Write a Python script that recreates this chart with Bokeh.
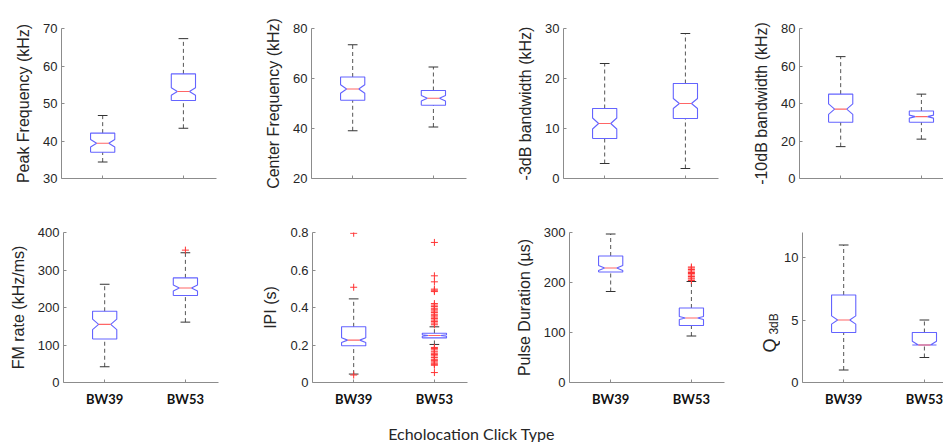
import numpy as np
from bokeh.plotting import figure
from bokeh.layouts import row, column
from bokeh.models import FixedTicker, Range1d
from bokeh.embed import file_html
from bokeh.resources import INLINE
from bokeh.core.properties import value

# ---------------- data ----------------
groups = ["BW39", "BW53"]
x_title = "Echolocation Click Type"

# stats per group: [lower whisker, q1, median, q3, upper whisker]
peak_stats = [[34.4, 37.0, 39.4, 42.1, 46.8], [43.4, 50.8, 53.2, 57.9, 67.3]]
peak_notch = [1.0, 1.0]
peak_out = [[], []]
peak_ticks = [30, 40, 50, 60, 70]
peak_labels = ["30", "40", "50", "60", "70"]

center_stats = [[39.1, 51.3, 55.8, 60.6, 73.5], [40.6, 49.3, 52.1, 55.2, 64.6]]
center_notch = [1.7, 1.1]
center_out = [[], []]
center_ticks = [20, 40, 60, 80]
center_labels = ["20", "40", "60", "80"]

bw3_stats = [[3, 8, 11, 14, 23], [2, 12, 15, 19, 29]]
bw3_notch = [1.1, 1.0]
bw3_out = [[], []]
bw3_ticks = [0, 10, 20, 30]
bw3_labels = ["0", "10", "20", "30"]

bw10_stats = [[17, 30, 37, 45, 65], [21, 30, 33, 36, 45]]
bw10_notch = [2.8, 0.8]
bw10_out = [[], []]
bw10_ticks = [0, 20, 40, 60, 80]
bw10_labels = ["0", "20", "40", "60", "80"]

fm_stats = [[42, 116, 155, 190, 262], [161, 232, 252, 279, 346]]
fm_notch = [14, 8]
fm_out = [[], [353]]
fm_ticks = [0, 100, 200, 300, 400]
fm_labels = ["0", "100", "200", "300", "400"]

ipi_stats = [[0.045, 0.196, 0.226, 0.297, 0.446], [0.203, 0.238, 0.251, 0.263, 0.297]]
ipi_notch = [0.013, 0.004]
ipi_out = [[0.796, 0.508, 0.04],
           [0.747, 0.569, 0.537, 0.498, 0.492, 0.485, 0.421, 0.413, 0.405, 0.396,
            0.388, 0.381, 0.373, 0.364, 0.356, 0.349, 0.341, 0.333, 0.325, 0.317,
            0.308, 0.187, 0.181, 0.174, 0.164, 0.156, 0.149, 0.142, 0.133, 0.124,
            0.118, 0.110, 0.103, 0.097, 0.092, 0.053]]
ipi_ticks = [0, 0.2, 0.4, 0.6, 0.8]
ipi_labels = ["0", "0.2", "0.4", "0.6", "0.8"]

pulse_stats = [[182, 221, 229, 253, 297], [93, 114, 129, 149, 202]]
pulse_notch = [5, 3]
pulse_out = [[], [204, 207, 209, 212, 215, 218, 220, 223, 226, 229, 231]]
pulse_ticks = [0, 100, 200, 300]
pulse_labels = ["0", "100", "200", "300"]

q3_stats = [[1, 4, 5, 7, 11], [2, 3, 3, 4, 5]]
q3_notch = [0.33, 0.3]
q3_out = [[], []]
q3_ticks = [0, 5, 10]
q3_labels = ["0", "5", "10"]
q3_label_main = "Q"
q3_label_sub = "3dB"

# ---------------- styling ----------------
AXIS = "#8c8c8c"
TXT = "#262626"
BOX = "#6464ff"
MED = "#ff6666"
WHISK = "#555555"
CAP = "#333333"
OUT = "#ff3333"
X_LO, X_HI, FULL_W = 0.49, 2.41, 155
BOX_W = 0.3
CAP_W = 0.12


def panel(stats, notch, outs, yr, ticks, tick_labels, ylabel, lb, fw, rb, tb, bb, bottom):
    x_hi = X_LO + (X_HI - X_LO) * fw / FULL_W
    p = figure(frame_width=fw, frame_height=150, x_range=Range1d(X_LO, x_hi),
               y_range=Range1d(*yr), output_backend="svg", toolbar_location=None,
               min_border_left=lb, min_border_right=rb, min_border_top=tb,
               min_border_bottom=bb, outline_line_color=None)
    p.grid.visible = False

    st = np.array(stats, dtype=float)
    nt = np.array(notch, dtype=float)
    xc = np.arange(1, len(groups) + 1, dtype=float)
    lw, q1, med, q3, uw = st.T
    nlo = np.maximum(med - nt, q1)
    nhi = np.minimum(med + nt, q3)
    h = BOX_W / 2
    q = BOX_W / 4

    # whiskers
    p.segment(x0=np.r_[xc, xc], y0=np.r_[q3, lw], x1=np.r_[xc, xc], y1=np.r_[uw, q1],
              line_color=WHISK, line_dash="4 3", line_width=1)
    # caps
    p.segment(x0=np.r_[xc - CAP_W / 2, xc - CAP_W / 2], y0=np.r_[uw, lw],
              x1=np.r_[xc + CAP_W / 2, xc + CAP_W / 2], y1=np.r_[uw, lw],
              line_color=CAP, line_width=1)
    # notched boxes
    xs, ys = [], []
    for i in range(len(xc)):
        x = xc[i]
        xs.append([x - h, x - h, x - q, x - h, x - h, x + h, x + h, x + q, x + h, x + h, x - h])
        ys.append([q1[i], nlo[i], med[i], nhi[i], q3[i], q3[i], nhi[i], med[i], nlo[i], q1[i], q1[i]])
    p.multi_line(xs=xs, ys=ys, line_color=BOX, line_width=1.1)
    # medians
    p.segment(x0=xc - q, y0=med, x1=xc + q, y1=med, line_color=MED, line_width=1.1)
    # outliers
    ox, oy = [], []
    for i, o in enumerate(outs):
        ox += [xc[i]] * len(o)
        oy += list(o)
    if ox:
        p.scatter(x=ox, y=oy, marker="cross", size=7, line_color=OUT, line_width=1)

    for ax in (p.xaxis[0], p.yaxis[0]):
        ax.axis_line_color = AXIS
        ax.major_tick_line_color = AXIS
        ax.major_tick_in = 3
        ax.major_tick_out = 0
        ax.minor_tick_line_color = None
    p.yaxis.ticker = FixedTicker(ticks=ticks)
    p.yaxis.major_label_overrides = {t: l for t, l in zip(ticks, tick_labels)}
    p.yaxis.major_label_text_font = "Liberation Sans"
    p.yaxis.major_label_text_font_size = "13px"
    p.yaxis.major_label_text_color = TXT
    p.yaxis.major_label_standoff = 4
    if ylabel:
        p.yaxis.axis_label = ylabel
        p.yaxis.axis_label_text_font = "Liberation Sans"
        p.yaxis.axis_label_text_font_size = "16px"
        p.yaxis.axis_label_text_font_style = "normal"
        p.yaxis.axis_label_text_color = TXT
        p.yaxis.axis_label_standoff = 8
    p.xaxis.ticker = FixedTicker(ticks=list(xc))
    if bottom:
        p.xaxis.major_label_overrides = {float(x): g for x, g in zip(xc, groups)}
    else:
        p.xaxis.major_label_overrides = {float(x): "" for x in xc}
    p.xaxis.major_label_text_font = "Lato"
    p.xaxis.major_label_text_font_style = "bold"
    p.xaxis.major_label_text_font_size = "13px"
    p.xaxis.major_label_text_color = "#111111"
    p.xaxis.major_label_standoff = 8
    return p


p1 = panel(peak_stats, peak_notch, peak_out, (30, 70), peak_ticks, peak_labels,
           "Peak Frequency (kHz)", 61, 155, 5, 24, 29, False)
p2 = panel(center_stats, center_notch, center_out, (20, 80), center_ticks, center_labels,
           "Center Frequency (kHz)", 90, 155, 5, 25, 28, False)
p3 = panel(bw3_stats, bw3_notch, bw3_out, (0, 30), bw3_ticks, bw3_labels,
           "-3dB bandwidth (kHz)", 92, 155, 5, 28, 25, False)
p4 = panel(bw10_stats, bw10_notch, bw10_out, (0, 80), bw10_ticks, bw10_labels,
           "-10dB bandwidth (kHz)", 76, 144, 0, 24, 29, False)

p5 = panel(fm_stats, fm_notch, fm_out, (0, 400), fm_ticks, fm_labels,
           "FM rate (kHz/ms)", 63, 155, 5, 24, 33, True)
p6 = panel(ipi_stats, ipi_notch, ipi_out, (0, 0.8), ipi_ticks, ipi_labels,
           "IPI (s)", 89, 155, 5, 27, 30, True)
p7 = panel(pulse_stats, pulse_notch, pulse_out, (0, 300), pulse_ticks, pulse_labels,
           "Pulse Duration (\u00b5s)", 97, 155, 5, 29, 28, True)
p8 = panel(q3_stats, q3_notch, q3_out, (0, 12), q3_ticks, q3_labels,
           None, 22, 141, 0, 29, 28, True)

# Q_3dB axis label (subscript drawn as a smaller text) in its own narrow strip
pq = figure(frame_width=51, frame_height=207, x_range=Range1d(0, 1), y_range=Range1d(0, 1),
            x_axis_type=None, y_axis_type=None, output_backend="svg", toolbar_location=None,
            min_border=0, outline_line_color=None)
pq.grid.visible = False
pq.text(x=[0.79], y=[0.42], text=[q3_label_main], angle=90, angle_units="deg",
        text_align="left", text_baseline="middle", text_font=value("Liberation Sans"),
        text_font_size="18px", text_color=TXT)
pq.text(x=[0.88], y=[0.507], text=[q3_label_sub], angle=90, angle_units="deg",
        text_align="left", text_baseline="middle", text_font=value("Liberation Sans"),
        text_font_size="12px", text_color=TXT)

pt = figure(frame_width=943, frame_height=32, x_range=Range1d(0, 1), y_range=Range1d(0, 1),
            x_axis_type=None, y_axis_type=None, output_backend="svg", toolbar_location=None,
            min_border=0, outline_line_color=None)
pt.grid.visible = False
pt.text(x=[0.4995], y=[0.28], text=[x_title], text_align="center", text_baseline="middle",
        text_font=value("Lato"), text_font_size="16px", text_color=TXT)

layout = column(row(p1, p2, p3, p4, spacing=0), row(p5, p6, p7, pq, p8, spacing=0), pt,
                spacing=0)

open("out.html", "w").write(file_html(layout, INLINE))
